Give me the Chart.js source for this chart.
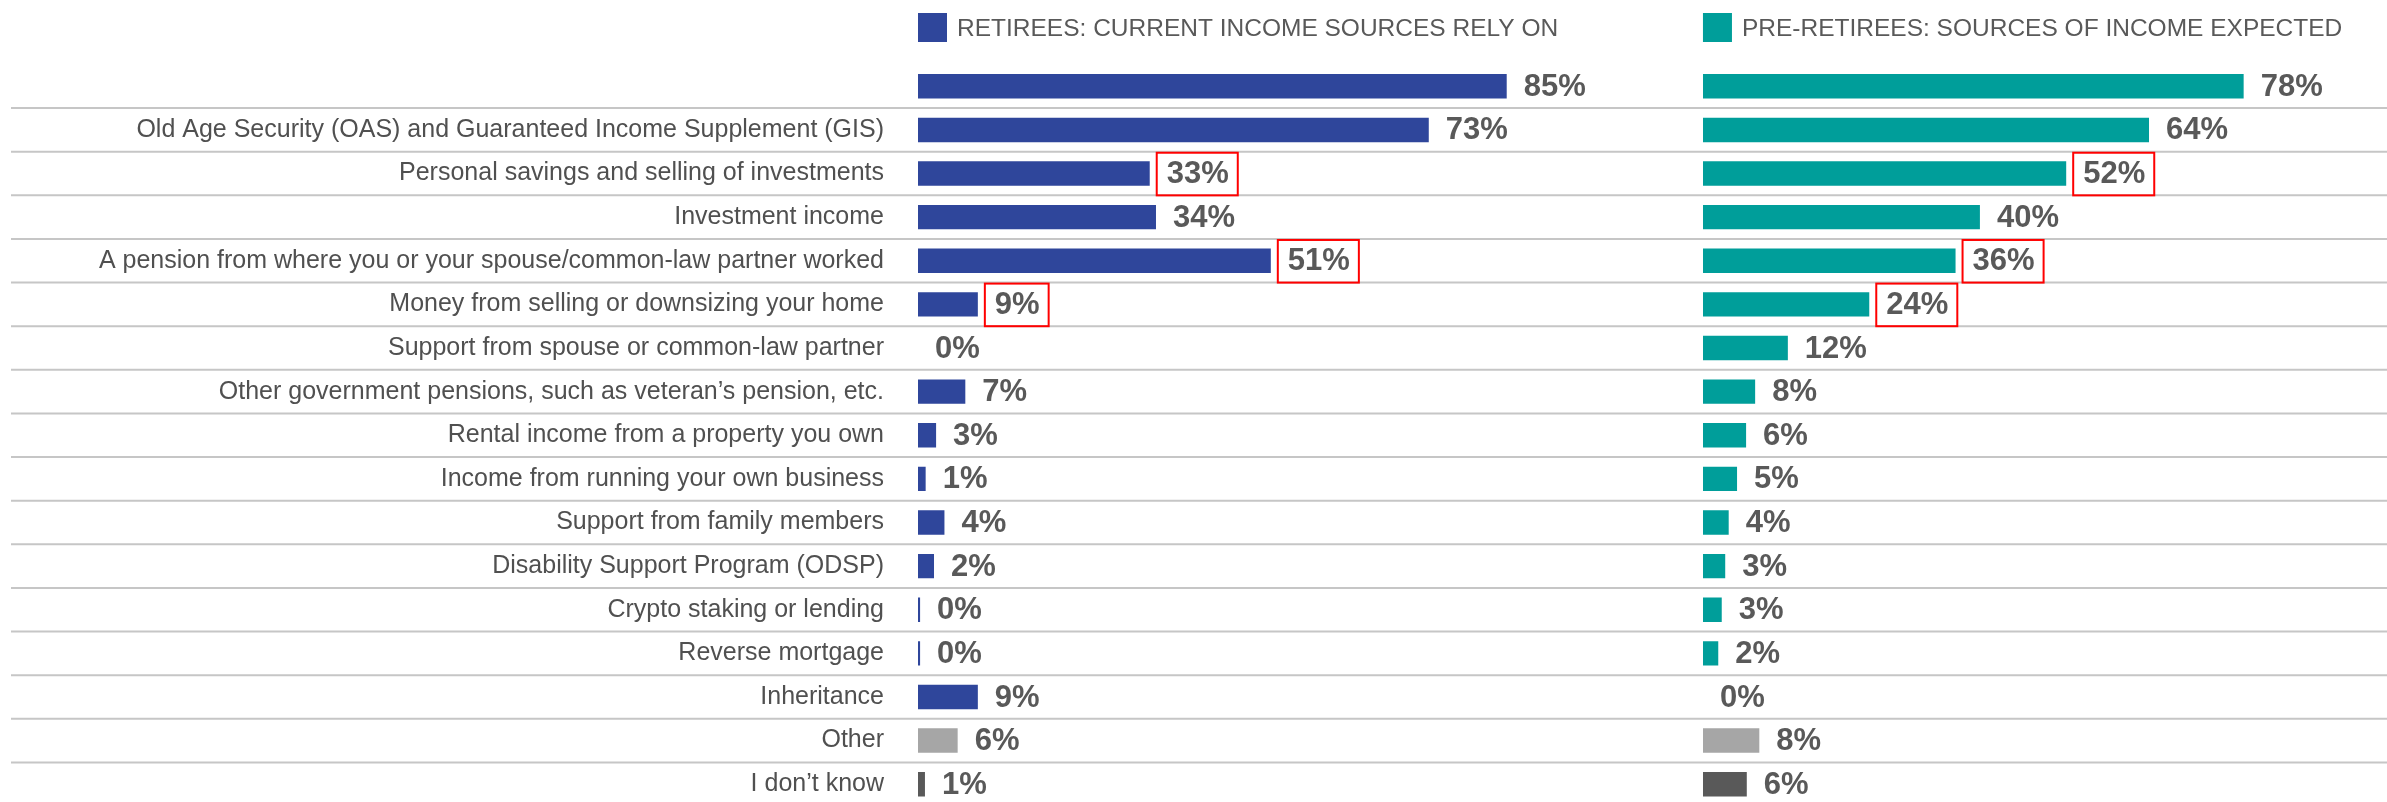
<!DOCTYPE html>
<html>
<head>
<meta charset="utf-8">
<script src="https://cdn.jsdelivr.net/npm/chart.js@4.4.0/dist/chart.umd.min.js"></script>
<style>
html, body { margin: 0; padding: 0; background: #fff; overflow: hidden; }
#wrap { position: relative; width: 2387px; height: 806px; }
</style>
</head>
<body>
<div id="wrap"><canvas id="chart" width="2387" height="806"></canvas></div>
<script>
// categories (first row has no label in the source)
var categories = [
	'',
	'Old Age Security (OAS) and Guaranteed Income Supplement (GIS)',
	'Personal savings and selling of investments',
	'Investment income',
	'A pension from where you or your spouse/common-law partner worked',
	'Money from selling or downsizing your home',
	'Support from spouse or common-law partner',
	'Other government pensions, such as veteran\u2019s pension, etc.',
	'Rental income from a property you own',
	'Income from running your own business',
	'Support from family members',
	'Disability Support Program (ODSP)',
	'Crypto staking or lending',
	'Reverse mortgage',
	'Inheritance',
	'Other',
	'I don\u2019t know'
];

var seriesNames = ['RETIREES: CURRENT INCOME SOURCES RELY ON', 'PRE-RETIREES: SOURCES OF INCOME EXPECTED'];

// % values
var retirees = [84.6, 73.4, 33.3, 34.2, 50.7, 8.6, 0, 6.8, 2.6, 1.1, 3.8, 2.3, 0.3, 0.3, 8.6, 5.7, 1.0];
var preRetirees = [77.7, 64.1, 52.2, 39.8, 36.3, 23.9, 12.2, 7.5, 6.2, 4.9, 3.7, 3.2, 2.7, 2.2, 0, 8.1, 6.3];

// values boxed in red in the source
var retireesBoxed = [2, 4, 5];
var preRetireesBoxed = [2, 4, 5];

var LEFT_MAX = 112.8;
var RIGHT_MAX = 98.3;
var FONT = "'Liberation Sans', Arial, sans-serif";
var mainColors = ['#2f469b', '#009e9a'];

function barColor(main) {
	return function (ctx) {
		if (ctx.index === categories.length - 2) return '#a6a6a6';
		if (ctx.index === categories.length - 1) return '#595959';
		return main;
	};
}

// row separators across the whole width
var separators = {
	id: 'separators',
	beforeDatasetsDraw: function (chart) {
		var ctx = chart.ctx, y = chart.scales.y;
		ctx.save();
		ctx.strokeStyle = '#c6c6c6';
		ctx.lineWidth = 2;
		for (var i = 1; i < categories.length; i++) {
			var py = (y.getPixelForValue(i - 1) + y.getPixelForValue(i)) / 2;
			ctx.beginPath();
			ctx.moveTo(11, py);
			ctx.lineTo(chart.width, py);
			ctx.stroke();
		}
		ctx.restore();
	}
};

// value labels + red boxes
var valueLabels = {
	id: 'valueLabels',
	afterDatasetsDraw: function (chart) {
		var ctx = chart.ctx;
		var half = (chart.scales.y.getPixelForValue(1) - chart.scales.y.getPixelForValue(0)) / 2;
		ctx.save();
		ctx.font = 'bold 31px ' + FONT;
		ctx.fillStyle = '#595959';
		ctx.textAlign = 'left';
		ctx.textBaseline = 'middle';
		chart.data.datasets.forEach(function (ds, di) {
			var meta = chart.getDatasetMeta(di);
			meta.data.forEach(function (bar, i) {
				var txt = Math.round(ds.data[i]) + '%';
				var x = bar.x + 17;
				ctx.fillText(txt, x, bar.y + 1);
				if (ds.boxed.indexOf(i) >= 0) {
					var w = ctx.measureText(txt).width;
					ctx.strokeStyle = '#ff0000';
					ctx.lineWidth = 2;
					ctx.strokeRect(x - 10, bar.y - half + 1, w + 19, half * 2 - 1);
				}
			});
		});
		ctx.restore();
	}
};

// legend over each panel
var panelLegend = {
	id: 'panelLegend',
	afterDraw: function (chart) {
		var ctx = chart.ctx;
		ctx.save();
		ctx.font = '24.5px ' + FONT;
		ctx.textBaseline = 'middle';
		chart.data.datasets.forEach(function (ds, di) {
			var sc = chart.scales[ds.xAxisID];
			ctx.fillStyle = mainColors[di];
			ctx.fillRect(sc.left, 13, 29, 29);
			ctx.fillStyle = '#595959';
			ctx.fillText(ds.label, sc.left + 39, 29);
		});
		ctx.restore();
	}
};

new Chart(document.getElementById('chart'), {
	type: 'bar',
	data: {
		labels: categories,
		datasets: [{
				label: seriesNames[0],
				data: retirees,
				boxed: retireesBoxed,
				xAxisID: 'x',
				backgroundColor: barColor(mainColors[0]),
				grouped: false,
				barPercentage: 0.56,
				categoryPercentage: 1
			},
			{
				label: seriesNames[1],
				data: preRetirees,
				boxed: preRetireesBoxed,
				xAxisID: 'x2',
				backgroundColor: barColor(mainColors[1]),
				grouped: false,
				barPercentage: 0.56,
				categoryPercentage: 1
			}
		]
	},
	options: {
		indexAxis: 'y',
		responsive: false,
		animation: false,
		layout: { padding: { top: 64.5, left: 0, right: 0, bottom: 0 } },
		plugins: {
			legend: { display: false },
			tooltip: { enabled: false }
		},
		scales: {
			x: {
				display: false,
				position: 'bottom',
				stack: 'panels',
				stackWeight: LEFT_MAX,
				min: 0,
				max: LEFT_MAX
			},
			x2: {
				display: false,
				position: 'bottom',
				stack: 'panels',
				stackWeight: RIGHT_MAX,
				min: 0,
				max: RIGHT_MAX
			},
			y: {
				afterFit: function (scale) {
					scale.width = 918;
					scale.paddingTop = 0;
					scale.paddingBottom = 0;
				},
				grid: { display: false, drawTicks: false },
				border: { display: false },
				ticks: {
					autoSkip: false,
					padding: 34,
					color: '#505050',
					font: { family: FONT, size: 25 }
				}
			}
		}
	},
	plugins: [separators, valueLabels, panelLegend]
});
</script>
</body>
</html>
